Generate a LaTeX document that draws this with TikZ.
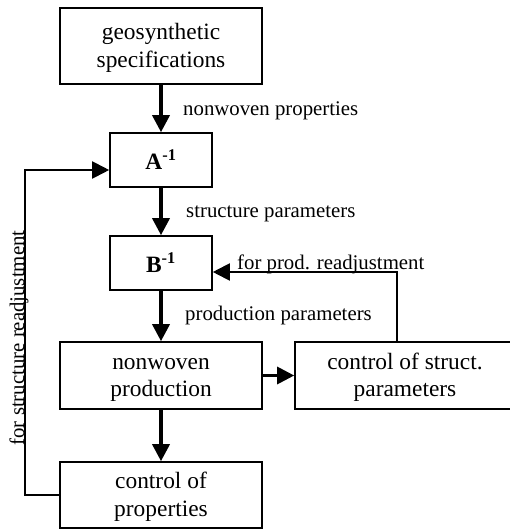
\documentclass[tikz,border=0pt]{standalone}
\usepackage{fontspec}
\setmainfont{Liberation Serif}
\usetikzlibrary{arrows.meta}
\tikzset{
  box/.style={draw, line width=1.6pt, align=center, inner sep=0pt,
    font=\fontsize{23.4}{27.5}\selectfont},
  lab/.style={anchor=base west, inner sep=0pt, font=\fontsize{20.8}{24}\selectfont},
  mainarrow/.style={line width=3.5pt, -{Triangle[length=17pt,width=17pt]}},
  fbarrow/.style={line width=2pt, -{Triangle[length=17pt,width=17pt]}},
}
\begin{document}
\begin{tikzpicture}[x=1pt,y=-1pt]
\useasboundingbox (0,0) rectangle (510,529);
\clip (0,0) rectangle (510,529);
\node[box, minimum width=202pt, minimum height=76pt] (G) at (161,46) {\rule{0pt}{20pt}geosynthetic\\specifications};
\node[box, minimum width=102pt, minimum height=54pt] (A) at (161,160) {\textbf{A\textsuperscript{-1}}};
\node[box, minimum width=102pt, minimum height=54pt] (B) at (161,263) {\textbf{B\textsuperscript{-1}}};
\node[box, minimum width=202pt, minimum height=67pt] (NP) at (161,375.5) {\rule{0pt}{20pt}nonwoven\\production};
\node[box, minimum width=202pt, minimum height=66pt] (CP) at (161,495) {\rule{0pt}{20pt}control of\\properties};
\node[box, minimum width=220pt, minimum height=67pt] (CS) at (405,375.5) {\rule{0pt}{20pt}control of struct.\\parameters};

\draw[mainarrow] (G) -- (A);
\draw[mainarrow] (A) -- (B);
\draw[mainarrow] (B) -- (NP);
\draw[mainarrow] (NP) -- (CP);
\draw[line width=3pt, -{Triangle[length=17pt,width=17pt]}] (NP) -- (CS);

\draw[fbarrow] (CP.west) -- ++(-34,0) |- ([yshift=-10pt]A.west);
\draw[fbarrow] ([xshift=-8pt]CS.north) |- ([yshift=-9pt]B.east);

\node[lab] (l1) at (183,116) {nonwoven properties};
\node[lab] (l2) at (186,217) {structure parameters};
\node[lab] (l3) at (237,269) {for prod. readjustment};
\node[lab] (l4) at (185,320) {production parameters};
\node[lab, anchor=base, rotate=90] (l5) at (24,338) {for structure readjustment};
\end{tikzpicture}
\end{document}
